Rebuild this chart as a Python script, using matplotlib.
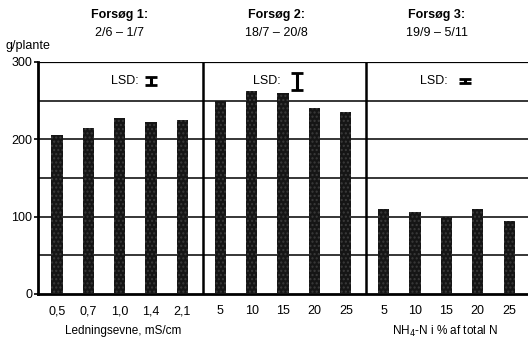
import numpy as np
import matplotlib.pyplot as plt
from matplotlib.transforms import blended_transform_factory

plt.rcParams['font.family'] = ['Liberation Sans', 'DejaVu Sans']

# three trials, five treatments each
titles = ['Forsøg 1:', 'Forsøg 2:', 'Forsøg 3:']
periods = ['2/6 – 1/7', '18/7 – 20/8', '19/9 – 5/11']
tick_labels = [['0,5', '0,7', '1,0', '1,4', '2,1'],
               ['5', '10', '15', '20', '25'],
               ['5', '10', '15', '20', '25']]
trial1 = [206, 215, 227, 222, 225]
trial2 = [250, 262, 260, 240, 235]
trial3 = [110, 106, 99, 110, 95]
lsd = [10, 22, 5]

values = [trial1, trial2, trial3]
offset = 5.2

fig = plt.figure(figsize=(5.28, 3.43), dpi=100)
ax = fig.add_axes([38 / 528, 1 - 294 / 343, 1 - 38 / 528, (294 - 62) / 343])
ax.set_xlim(-0.6, 2 * offset + 4.6)
ax.set_ylim(0, 300)
top = blended_transform_factory(ax.transData, fig.transFigure)

# label / I-beam / title placement inside each panel, relative to its first bar
lsd_text_x = [2.15, 1.5, 1.6]
lsd_bar_x = [3.0, 2.45, 2.6]
title_x = [2.0, 1.8, 1.7]

xs_all, labels_all = [], []
for g, vals in enumerate(values):
    xs = g * offset + np.arange(len(vals))
    ax.bar(xs, vals, width=0.36, color='#151515', edgecolor='#3a3a3a',
           hatch='....', linewidth=0, zorder=3)
    xs_all.extend(xs)
    labels_all.extend(tick_labels[g])

    ax.text(g * offset + lsd_text_x[g], 275, 'LSD:', ha='center', va='center',
            fontsize=9)
    ax.errorbar(g * offset + lsd_bar_x[g], 275, yerr=lsd[g] / 2,
                fmt='none', ecolor='black', elinewidth=2.2, capsize=4,
                capthick=2, zorder=4)

    ax.text(g * offset + title_x[g], 1 - 15 / 343, titles[g], transform=top,
            ha='center', va='center', fontsize=9, fontweight='bold')
    ax.text(g * offset + title_x[g], 1 - 33 / 343, periods[g], transform=top,
            ha='center', va='center', fontsize=9)

for y in [50, 100, 150, 200, 250]:
    ax.axhline(y, color='black', linewidth=1.1, zorder=1)
ax.axhline(300, color='black', linewidth=1.6, zorder=1)
for g in [1, 2]:
    ax.axvline(g * offset - 0.55, color='black', linewidth=1.8, zorder=2)

ax.set_xticks(xs_all)
ax.set_xticklabels(labels_all, fontsize=9)
ax.tick_params(axis='x', length=0, pad=8)
ax.set_yticks([0, 100, 200, 300])
ax.tick_params(axis='y', length=3, width=1.2, labelsize=9, pad=1)

for side in ['top', 'right']:
    ax.spines[side].set_visible(False)
ax.spines['left'].set_linewidth(2)
ax.spines['bottom'].set_linewidth(2)

fig.text(5 / 528, 1 - 46 / 343, 'g/plante', ha='left', va='center', fontsize=9)
fig.text(123 / 528, 1 - 331 / 343, 'Ledningsevne, mS/cm', ha='center',
         va='center', fontsize=8.5)
fig.text(445 / 528, 1 - 331 / 343, 'NH$_4$-N i % af total N', ha='center',
         va='center', fontsize=8.5)

fig.savefig('out.png', dpi=100)
